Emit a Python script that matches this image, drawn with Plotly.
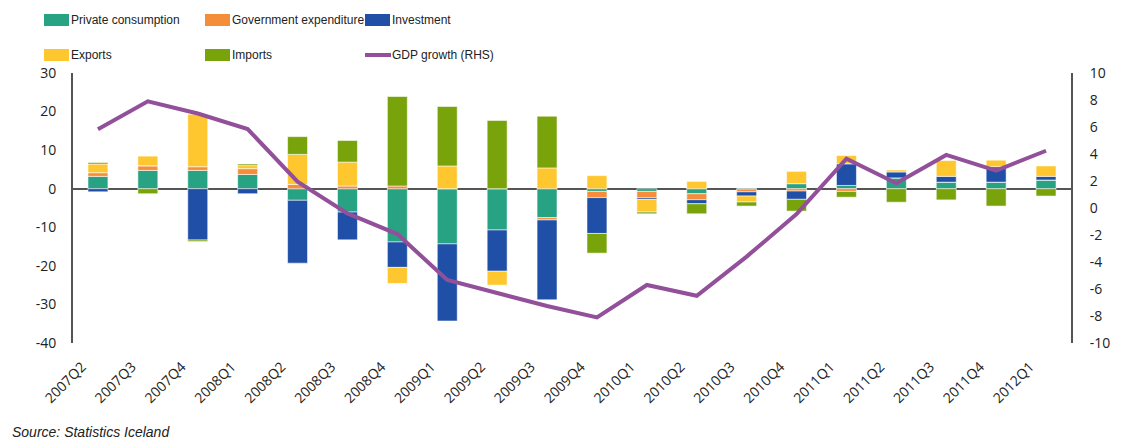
import plotly.graph_objects as go

# Contributions to GDP growth (percentage points) and GDP growth (%)
quarters = ["2007Q2", "2007Q3", "2007Q4", "2008Q1", "2008Q2", "2008Q3", "2008Q4",
            "2009Q1", "2009Q2", "2009Q3", "2009Q4", "2010Q1", "2010Q2", "2010Q3",
            "2010Q4", "2011Q1", "2011Q2", "2011Q3", "2011Q4", "2012Q1"]

private_consumption = [3.2, 4.75, 4.75, 3.7, -3.0, -6.05, -13.8, -14.3, -10.7, -7.5,
                       -0.7, -0.7, -1.3, -0.1, 1.3, 0.85, 2.8, 1.7, 1.7, 2.25]
government_expenditure = [0.95, 1.2, 0.95, 1.5, 1.1, 0.7, 0.7, 0.0, 0.0, -0.6,
                          -1.6, -1.6, -1.55, -0.7, -0.6, -0.7, 0.0, 0.0, 0.0, 0.0]
investment = [-0.8, 0.0, -13.3, -1.3, -16.3, -7.2, -6.6, -20.0, -10.7, -20.7,
              -9.3, -0.45, -1.05, -1.1, -2.15, 5.6, 1.55, 1.5, 4.0, 0.95]
exports = [2.25, 2.5, 13.6, 0.8, 7.8, 6.2, -4.15, 5.9, -3.6, 5.4,
           3.4, -3.3, 1.9, -1.55, 3.2, 2.15, 0.5, 4.1, 1.7, 2.7]
imports = [0.4, -1.3, -0.4, 0.4, 4.6, 5.6, 23.2, 15.4, 17.7, 13.4,
           -5.1, -0.45, -2.6, -1.05, -3.05, -1.5, -3.5, -2.9, -4.5, -1.9]
gdp_growth = [5.83, 7.9, 7.0, 5.85, 1.95, -0.4, -1.93, -5.33, -6.3, -7.26,
              -8.1, -5.7, -6.5, -3.6, -0.45, 3.65, 1.83, 3.93, 2.77, 4.24]

left_ticks = [30, 20, 10, 0, -10, -20, -30, -40]
right_ticks = [10, 8, 6, 4, 2, 0, -2, -4, -6, -8, -10]

series = [
    ("Private consumption", private_consumption, "#27A283"),
    ("Government expenditure", government_expenditure, "#F58E3B"),
    ("Investment", investment, "#1F4FA6"),
    ("Exports", exports, "#FFC72F"),
    ("Imports", imports, "#78A30A"),
]
line_name = "GDP growth (RHS)"
line_color = "#93509A"

W, H = 1126, 443
L, R, T, B = 73, 1071, 73, 343  # plot area in pixels

fig = go.Figure()
for name, vals, color in series:
    fig.add_trace(go.Bar(
        x=quarters, y=vals, name=name, showlegend=False,
        marker=dict(color=color, line=dict(color="rgba(255,255,255,0.55)", width=1)),
    ))
fig.add_trace(go.Scatter(
    x=quarters, y=gdp_growth, name=line_name, yaxis="y2", mode="lines",
    showlegend=False, line=dict(color=line_color, width=4),
))


def px(x):
    return (x - L) / (R - L)


def py(y):
    return (B - y) / (B - T)


# Legend: swatches and labels in a 3 x 2 grid above the plot
legend_font = dict(family="Liberation Sans, Arial, sans-serif", size=12, color="#222222")
cols = [44, 205, 365]
rows = [20, 55]
entries = [(s[0], s[2], "bar") for s in series] + [(line_name, line_color, "line")]
shapes = []
annotations = []
for i, (name, color, kind) in enumerate(entries):
    cx = cols[i % 3]
    cy = rows[i // 3]
    if kind == "bar":
        shapes.append(dict(type="rect", xref="paper", yref="paper",
                           x0=px(cx), x1=px(cx + 25), y0=py(cy + 6), y1=py(cy - 6),
                           fillcolor=color, line=dict(width=0)))
    else:
        shapes.append(dict(type="line", xref="paper", yref="paper",
                           x0=px(cx), x1=px(cx + 26), y0=py(cy), y1=py(cy),
                           line=dict(color=color, width=4)))
    annotations.append(dict(text=name, xref="paper", yref="paper",
                            x=px(cx + 25), y=py(cy), xanchor="left", yanchor="middle",
                            showarrow=False, font=legend_font))

annotations.append(dict(text="<i>Source: Statistics Iceland</i>", xref="paper", yref="paper",
                        x=px(10), y=py(432), xanchor="left", yanchor="middle",
                        showarrow=False,
                        font=dict(family="Liberation Sans, Arial, sans-serif",
                                  size=14, color="#222222")))

tick_font = dict(family="Open Sans, sans-serif", size=14, color="#222222")

fig.update_layout(
    width=W, height=H,
    margin=dict(l=L, r=W - R, t=T, b=H - B, pad=0),
    paper_bgcolor="white", plot_bgcolor="white",
    barmode="relative", bargap=0.6,
    shapes=shapes, annotations=annotations,
    xaxis=dict(type="category", tickangle=-45, tickfont=tick_font,
               showline=False, showgrid=False, ticks="", range=[-0.5, 19.5],
               ticklabelshift=-16, ticklabelstandoff=12),
    yaxis=dict(range=[-40, 30], tickvals=left_ticks,
               ticktext=[str(v) for v in left_ticks], tickfont=tick_font,
               showgrid=False, showline=True, linecolor="#555555", linewidth=2,
               zeroline=True, zerolinecolor="#555555", zerolinewidth=2,
               ticks="", ticklabelstandoff=12),
    yaxis2=dict(range=[-10, 10], tickvals=right_ticks,
                ticktext=[str(v) for v in right_ticks], tickfont=tick_font,
                overlaying="y", side="right", showgrid=False, zeroline=False,
                showline=True, linecolor="#555555", linewidth=2, ticks="",
                ticklabelstandoff=14),
)

fig.write_html("out.html")
